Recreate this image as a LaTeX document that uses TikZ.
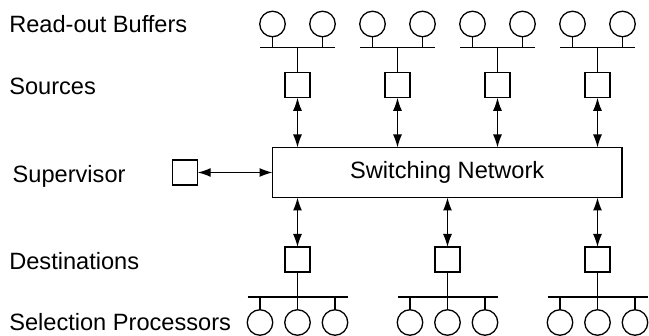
\documentclass[tikz,border=0pt]{standalone}
\usepackage{fontspec}
\setmainfont{Liberation Sans}
\usetikzlibrary{arrows.meta}
\begin{document}
\begin{tikzpicture}[x=1pt,y=-1pt,
  every node/.style={inner sep=0pt,outer sep=0pt},
  wire/.style={line width=1.3pt},
  bus/.style={line width=1.6pt},
  unit/.style={draw,line width=1.3pt,rectangle,minimum size=25pt},
  buf/.style={draw,line width=1.3pt,circle,minimum size=25.5pt},
  link/.style={line width=1.3pt,{Latex[length=13pt,width=9pt]}-{Latex[length=13pt,width=9pt]}},
  lbl/.style={anchor=base west,font=\fontsize{23.6}{28}\selectfont}]
\useasboundingbox (0,0) rectangle (649,336);

% switching network in the middle
\node[draw,line width=1.3pt,minimum width=349.5pt,minimum height=50pt,
      font=\fontsize{23.6}{28}\selectfont] (sw) at (447.25,172.5) {Switching Network};

% supervisor
\node[unit] (sup) at (185.2,172.5) {};
\draw[link] (sup) -- (sw.west);

% sources with their read-out buffers
\foreach \i in {1,2,3,4} {
  \pgfmathsetmacro{\x}{197.5+100*\i}
  \node[unit] (src\i) at (\x,85.3) {};
  \coordinate (tb\i) at (\x,47.7);
  \draw[bus] ([xshift=-37.5pt]tb\i) -- ([xshift=37.5pt]tb\i);
  \draw[wire] (src\i) -- (tb\i);
  \foreach \j/\dx in {a/-25,b/25} {
    \node[buf] (rb\i\j) at (\x+\dx,24) {};
    \draw[wire] (rb\i\j) -- (rb\i\j |- tb\i);
  }
  \draw[link] (src\i) -- (src\i |- sw.north);
}

% destinations with their selection processors
\foreach \i in {1,2,3} {
  \pgfmathsetmacro{\x}{147.5+150*\i}
  \node[unit] (dst\i) at (\x,259.5) {};
  \coordinate (bb\i) at (\x,297.3);
  \draw[bus] ([xshift=-50pt]bb\i) -- ([xshift=50pt]bb\i);
  \draw[wire] (dst\i) -- (bb\i);
  \foreach \j/\dx in {a/-37.5,b/0,c/37.5} {
    \node[buf] (sp\i\j) at (\x+\dx,322.5) {};
    \draw[wire] (sp\i\j) -- (sp\i\j |- bb\i);
  }
  \draw[link] (dst\i) -- (dst\i |- sw.south);
}

% row labels
\node[lbl] (l1) at (9.3,32.5) {Read-out Buffers};
\node[lbl] (l2) at (9.3,95) {Sources};
\node[lbl] (l3) at (12.7,183) {Supervisor};
\node[lbl] (l4) at (9.3,269.5) {Destinations};
\node[lbl] (l5) at (9.3,331) {Selection Processors};
\end{tikzpicture}
\end{document}
